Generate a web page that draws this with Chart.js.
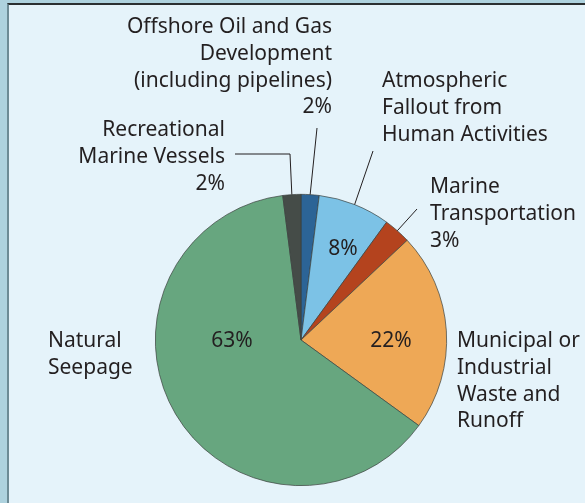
<!DOCTYPE html>
<html lang="en">
<head>
    <meta charset="UTF-8">
    <title>Sources of oil entering the sea</title>
    <script src="https://cdn.jsdelivr.net/npm/chart.js"></script>
    <style>
        html, body {
            margin: 0;
            padding: 0;
            background: #aed2de;
            width: 585px;
            height: 503px;
            overflow: hidden;
        }

        #panel {
            position: absolute;
            left: 7px;
            top: 3px;
            width: 600px;
            height: 520px;
            background: #e5f3fa;
            border-top: 2px solid #2a2f31;
            border-left: 2px solid #6d8b95;
        }

        #wrap {
            position: absolute;
            left: 0;
            top: 0;
            width: 585px;
            height: 503px;
        }
    </style>
</head>
<body>

    <div id="panel"></div>
    <div id="wrap"><canvas id="grafica" width="585" height="503"></canvas></div>

<script>
        // Datos (en orden de las agujas del reloj, desde las 12)
        const categories = [
            'Offshore Oil and Gas Development (including pipelines)',
            'Atmospheric Fallout from Human Activities',
            'Marine Transportation',
            'Municipal or Industrial Waste and Runoff',
            'Natural Seepage',
            'Recreational Marine Vessels'
        ];
        const shares = [2, 8, 3, 22, 63, 2];
        const sliceColors = ['#2c6496', '#7cc2e6', '#b4431e', '#eea856', '#67a67f', '#454c48'];

        // Texto de las etiquetas (lineas)
        const labelLines = [
            ['Offshore Oil and Gas', 'Development', '(including pipelines)'],
            ['Atmospheric', 'Fallout from', 'Human Activities'],
            ['Marine', 'Transportation'],
            ['Municipal or', 'Industrial', 'Waste and', 'Runoff'],
            ['Natural', 'Seepage'],
            ['Recreational', 'Marine Vessels']
        ];
        // true = porcentaje junto a la etiqueta, false = dentro del sector
        const pctOutside = [true, false, true, false, false, true];

        // Posicion de las etiquetas (layout)
        const labelLayout = [
            { x: 332, y: 27, align: 'right', pct: null, leader: [[317, 128]] },
            { x: 382, y: 81, align: 'left', pct: { x: 343, y: 249 }, leader: [[373, 151]] },
            { x: 430, y: 187, align: 'left', pct: null, leader: [[417, 209]] },
            { x: 457, y: 341, align: 'left', pct: { x: 391, y: 341 }, leader: null },
            { x: 48, y: 341, align: 'left', pct: { x: 232, y: 341 }, leader: null },
            { x: 225, y: 130, align: 'right', pct: null, leader: [[290, 154], [235, 154]] }
        ];
        const lineH = 26.8;
        const font = '21px "Noto Sans", "Open Sans", sans-serif';

        const labelPlugin = {
            id: 'etiquetas',
            afterDraw(chart) {
                const c = chart.ctx;
                const meta = chart.getDatasetMeta(0);
                c.save();
                c.fillStyle = '#231f20';
                c.font = font;
                c.textBaseline = 'middle';

                meta.data.forEach((arc, i) => {
                    const L = labelLayout[i];
                    const lines = labelLines[i].slice();
                    if (pctOutside[i]) lines.push(shares[i] + '%');
                    c.textAlign = L.align;
                    lines.forEach((t, k) => c.fillText(t, L.x, L.y + k * lineH));

                    if (L.pct) {
                        c.textAlign = 'center';
                        c.fillText(shares[i] + '%', L.pct.x, L.pct.y);
                    }

                    // linea guia desde el borde del sector
                    if (L.leader) {
                        const mid = (arc.startAngle + arc.endAngle) / 2;
                        const px = arc.x + arc.outerRadius * Math.cos(mid);
                        const py = arc.y + arc.outerRadius * Math.sin(mid);
                        c.beginPath();
                        c.strokeStyle = '#231f20';
                        c.lineWidth = 1;
                        c.moveTo(px, py);
                        L.leader.forEach(p => c.lineTo(p[0], p[1]));
                        c.stroke();
                    }
                });
                c.restore();
            }
        };

        const ctx = document.getElementById('grafica').getContext('2d');
        const grafica = new Chart(ctx, {
            type: 'pie',
            data: {
                labels: categories,
                datasets: [{
                    data: shares,
                    backgroundColor: sliceColors,
                    borderColor: '#3b403d',
                    borderWidth: 0.7
                }]
            },
            options: {
                animation: false,
                responsive: false,
                devicePixelRatio: 1,
                layout: {
                    padding: { left: 155, right: 138, top: 194, bottom: 17 }
                },
                plugins: {
                    legend: { display: false },
                    tooltip: { enabled: false }
                }
            },
            plugins: [labelPlugin]
        });
    </script>

</body>
</html>
